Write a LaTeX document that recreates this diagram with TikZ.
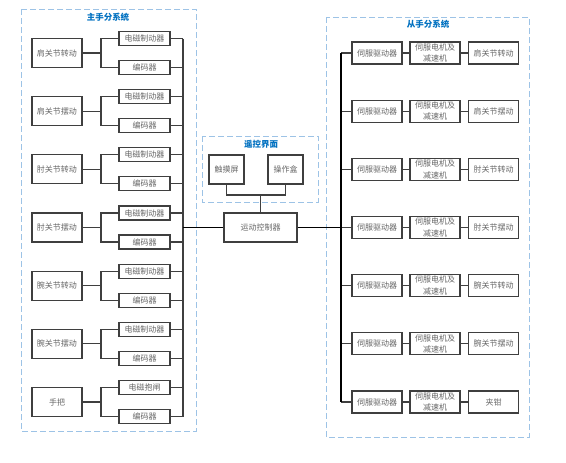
\documentclass[tikz,border=0pt]{standalone}
\usepackage{fontspec}
\newfontfamily\cjk{Noto Sans CJK SC}
\usetikzlibrary{positioning,calc}
\definecolor{boxline}{HTML}{3F3F3F}
\definecolor{boxtext}{HTML}{666666}
\definecolor{titleblue}{HTML}{0070C0}
\definecolor{groupline}{HTML}{9DC3E6}
\tikzset{
    every picture/.style={line width=1.2pt},
    anybox/.style={draw=boxline,fill=white,inner sep=0pt,text=boxtext,
        font=\cjk\fontsize{8}{11.5}\selectfont,align=center},
    jointbox/.style={anybox,minimum width=50pt,minimum height=29pt},
    subbox/.style={anybox,minimum width=51pt,minimum height=14pt},
    slavebox/.style={anybox,minimum width=50pt,minimum height=22pt},
    groupbox/.style={draw=groupline,line width=1pt,dash pattern=on 6pt off 3pt},
    grouptitle/.style={text=titleblue,font=\cjk\bfseries\fontsize{8.5}{10}\selectfont},
    wire/.style={draw=boxline,line width=1.2pt},
    mainwire/.style={draw=black,line width=1.7pt}
}

\begin{document}
\begin{tikzpicture}[x=1pt,y=-1pt]
    \useasboundingbox (0,0) rectangle (566,463);

    % === 分组虚线框 ===
    \draw[groupbox] (21,9) rectangle (196,431);
    \node[grouptitle] (mtitle) at (108,17) {主手分系统};
    \draw[groupbox] (326,17) rectangle (529,437);
    \node[grouptitle] (stitle) at (428,24) {从手分系统};
    \draw[groupbox] (202,136) rectangle (318,202);
    \node[grouptitle] (htitle) at (261,144) {遥控界面};

    % === 中间: 控制器与界面 ===
    \node[anybox,minimum width=73pt,minimum height=29pt] (ctrl) at (260.5,227.5) {运动控制器};
    \node[anybox,minimum width=35pt,minimum height=29pt] (touch) at (226.5,169.5) {触摸屏};
    \node[anybox,minimum width=35pt,minimum height=29pt] (opbox) at (285.5,169.5) {操作盒};
    \coordinate (hmi) at (260.5,195);
    \draw[wire] (touch.south) |- (hmi) -| (opbox.south);
    \draw[wire] (hmi) -- (ctrl.north);

    % === 左: 主手 ===
    \coordinate (lbus) at (183,227.5);
    \foreach \i/\name/\brake in {0/肩关节转动/电磁制动器,1/肩关节摆动/电磁制动器,
            2/肘关节转动/电磁制动器,3/肘关节摆动/电磁制动器,4/腕关节转动/电磁制动器,
            5/腕关节摆动/电磁制动器,6/手把/电磁抱闸} {
        \pgfmathsetmacro{\yy}{53+58.17*\i}
        \node[jointbox] (mj\i) at (57,\yy) {\name};
        \node[subbox] (brk\i) at (144.5,\yy-14.5) {\brake};
        \node[subbox] (enc\i) at (144.5,\yy+14.5) {编码器};
        \coordinate (br\i) at (101,\yy);
        \draw[wire] (mj\i.east) -- (br\i);
        \draw[wire] (brk\i.west) -| (br\i) |- (enc\i.west);
        \draw[wire] (brk\i.east) -- (brk\i.east -| lbus);
        \draw[wire] (enc\i.east) -- (enc\i.east -| lbus);
    }
    \draw[wire] (brk0.east -| lbus) -- (enc6.east -| lbus);
    \draw[mainwire] (lbus) -- (ctrl.west);

    % === 右: 从手 ===
    \coordinate (rbus) at (341,227.5);
    \foreach \i/\name in {0/肩关节转动,1/肩关节摆动,2/肘关节转动,3/肘关节摆动,
            4/腕关节转动,5/腕关节摆动,6/夹钳} {
        \pgfmathsetmacro{\yy}{53+58.17*\i}
        \node[slavebox] (drv\i) at (377,\yy) {伺服驱动器};
        \node[slavebox] (mot\i) at (435,\yy) {伺服电机及\\减速机};
        \node[slavebox] (sj\i) at (493.5,\yy) {\name};
        \draw[wire] (drv\i.west -| rbus) -- (drv\i.west);
        \draw[wire] (drv\i.east) -- (mot\i.west);
        \draw[wire] (mot\i.east) -- (sj\i.west);
    }
    \draw[mainwire] (drv0.west -| rbus) -- (drv6.west -| rbus);
    \draw[mainwire] (ctrl.east) -- (rbus);
\end{tikzpicture}
\end{document}
